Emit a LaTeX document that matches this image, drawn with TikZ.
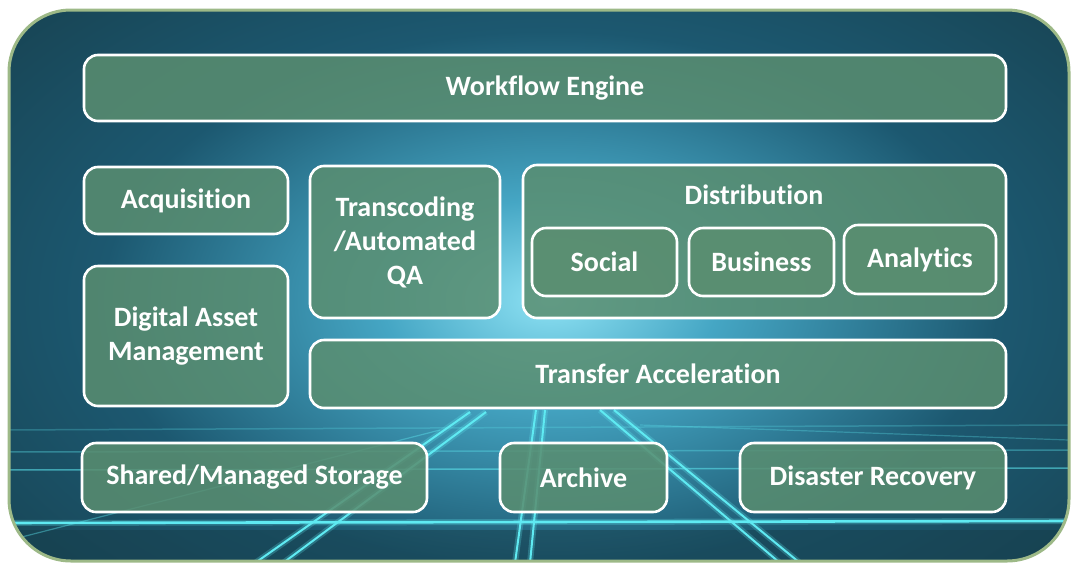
\documentclass[tikz,border=0pt]{standalone}
\usepackage{fontspec}
\setmainfont{Carlito}[Ligatures={NoCommon,NoContextual}]
\definecolor{bgdark}{HTML}{163C48}
\definecolor{bgmid}{HTML}{1C5870}
\definecolor{glowm}{HTML}{45A6C4}
\definecolor{glowc}{HTML}{8EE2F4}
\definecolor{boxgreen}{HTML}{5A8E70}
\definecolor{rim}{HTML}{9DB987}
\definecolor{gridc}{HTML}{5FEAF2}
\pgfdeclareradialshading{glowshade}{\pgfpoint{0bp}{0bp}}{color(0bp)=(glowc); color(6bp)=(glowm); color(16bp)=(bgmid); color(30bp)=(bgdark); color(50bp)=(bgdark)}
\tikzset{
  box/.style={draw=white, line width=2.6pt, rounded corners=14pt, fill=boxgreen, fill opacity=0.85, text opacity=1, text=white, font=\bfseries\fontsize{28}{34}\selectfont, align=center, inner sep=0pt, rectangle},
  lbl/.style={text=white, font=\bfseries\fontsize{28}{34}\selectfont, inner sep=0pt},
  gridline/.style={draw=gridc, line width=2pt},
  gridglow/.style={draw=gridc, line width=6pt, opacity=0.25},
}
\begin{document}
\begin{tikzpicture}[x=1pt,y=-1pt]
\useasboundingbox (0,0) rectangle (1071,563);
\begin{scope}
  \clip[rounded corners=62pt] (9,10) rectangle (1069,561);
  \fill[bgdark] (0,0) rectangle (1071,563);
  \shade[shading=glowshade] (550,300) ellipse [x radius=700, y radius=420];
  \fill[bgdark, opacity=0.45] (0,530) rectangle (1071,563);
  % grid lines
  \foreach \ya/\yb/\op in {430/425/0.25, 452/450/0.35, 470/468/0.55} {
    \draw[gridc, line width=1.5pt, opacity=\op] (0,\ya) -- (1071,\yb);
  }
  \draw[gridglow] (0,523) -- (1071,521);
  \draw[gridline, line width=2.6pt] (0,523) -- (1071,521);
  \foreach \xa/\xb in {470/255, 486/283} {
    \draw[gridglow] (\xa,412) -- (\xb,563);
    \draw[gridline] (\xa,412) -- (\xb,563);
  }
  \foreach \xa/\xb in {536/515, 545/530} {
    \draw[gridglow] (\xa,410) -- (\xb,563);
    \draw[gridline] (\xa,410) -- (\xb,563);
  }
  \foreach \xa/\xb in {600/780, 614/800} {
    \draw[gridglow] (\xa,410) -- (\xb,563);
    \draw[gridline] (\xa,410) -- (\xb,563);
  }
  \draw[gridc, line width=1.2pt, opacity=0.4] (10,540) -- (440,430);
  \draw[gridc, line width=1.2pt, opacity=0.3] (1069,440) -- (640,425);
\end{scope}
\draw[rim, line width=3pt, rounded corners=62pt] (9,10) rectangle (1069,561);

\node[box, minimum width=922, minimum height=66] (wf) at (545,88) {Workflow Engine};
\node[box, minimum width=204, minimum height=67] (acq) at (186,200.5) {Acquisition};
\node[box, minimum width=204, minimum height=140] (dam) at (186,336) {Digital Asset\\Management};
\node[box, minimum width=190, minimum height=152] (trans) at (405,242) {Transcoding\\/Automated\\QA};
\node[box, minimum width=483, minimum height=153] (dist) at (764.5,241.5) {};
\node[lbl] (distl) at (754,195) {Distribution};
\node[box, minimum width=145, minimum height=68] (soc) at (604.5,262) {Social};
\node[box, minimum width=145, minimum height=68] (bus) at (761.5,262) {Business};
\node[box, minimum width=152, minimum height=69] (ana) at (920,259.5) {Analytics};
\node[box, minimum width=696, minimum height=68] (ta) at (658,374) {Transfer Acceleration};
\node[box, minimum width=345, minimum height=69] (sms) at (254.5,477.5) {Shared/Managed Storage};
\node[box, minimum width=167, minimum height=69] (arc) at (583.5,477.5) {Archive};
\node[box, minimum width=266, minimum height=69] (dr) at (873,477.5) {Disaster Recovery};
\end{tikzpicture}
\end{document}
